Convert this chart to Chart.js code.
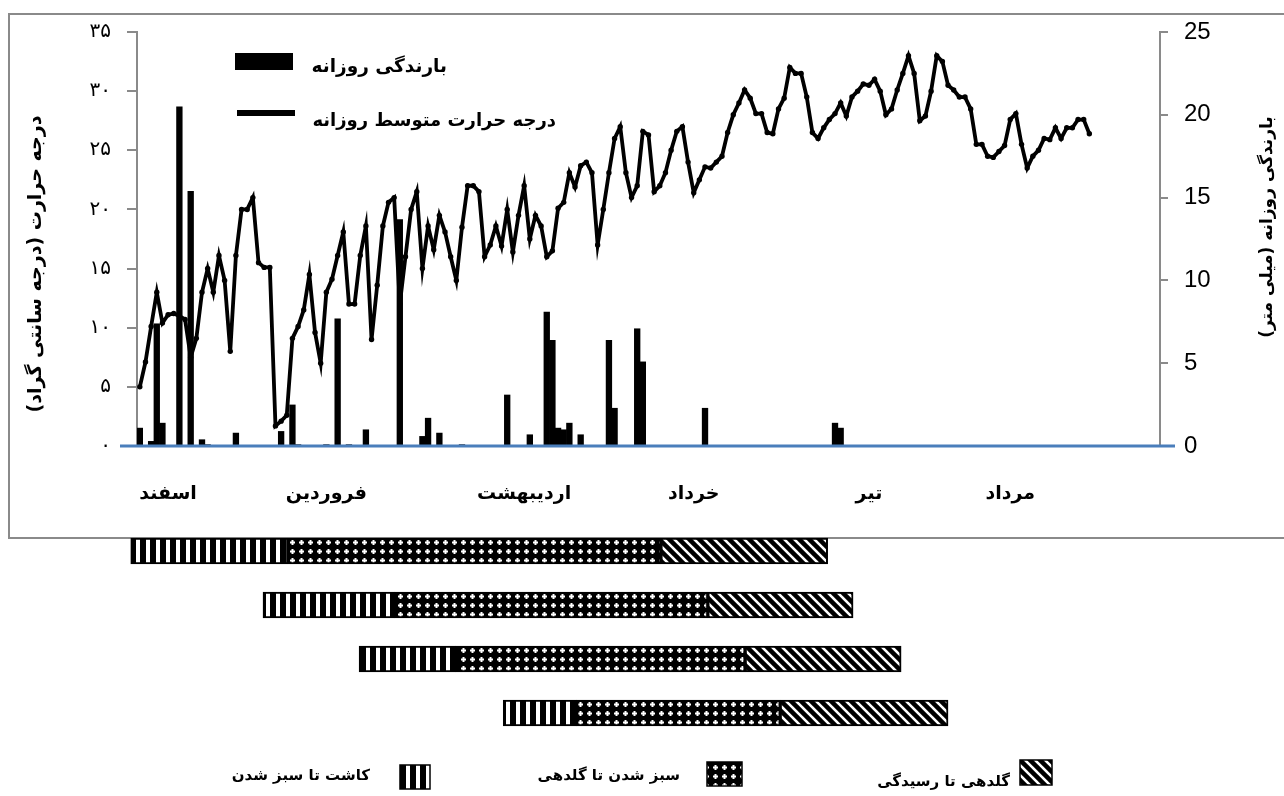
<!DOCTYPE html>
<html lang="fa">
<head>
<meta charset="utf-8">
<title>بارندگی و درجه حرارت روزانه</title>
<script src="https://cdn.jsdelivr.net/npm/chart.js@4.4.1/dist/chart.umd.min.js"></script>
<style>
  body { margin: 0; background: #fff; }
  #wrap { position: relative; width: 1284px; height: 796px; overflow: hidden; }
  #frame { position: absolute; left: 8px; top: 13px; width: 1300px; height: 522px; border: 2px solid #8a8a8a; }
  #mainChart { position: absolute; left: 0; top: 0; }
  #stageChart { position: absolute; left: 0; top: 520px; }
</style>
</head>
<body>
<div id="wrap">
  <div id="frame"></div>
  <canvas id="mainChart" width="1284" height="540"></canvas>
  <canvas id="stageChart" width="1284" height="276"></canvas>
</div>
<script>
// Daily data, day 0 = start of Esfand
const dayCount = 181;

// Mean daily temperature (°C)
const tempC = [
    5.0, 7.1, 10.1, 13.0, 10.4, 11.1, 11.2, 11.0, 10.7, 7.5,
    9.1, 13.0, 15.0, 13.0, 16.1, 14.0, 8.0, 16.1, 20.0, 20.0,
    21.0, 15.5, 15.1, 15.1, 1.7, 2.1, 2.6, 9.1, 10.1, 11.5,
    14.5, 9.6, 7.0, 13.0, 14.1, 16.1, 18.1, 12.0, 12.0, 16.1,
    18.6, 9.0, 13.6, 18.6, 20.6, 21.0, 12.0, 16.0, 20.0, 21.5,
    15.0, 18.6, 16.6, 19.5, 18.1, 16.0, 14.0, 18.5, 22.0, 22.0,
    21.5, 16.0, 17.0, 18.6, 16.9, 20.0, 16.4, 19.5, 22.0, 17.5,
    19.5, 18.6, 16.0, 16.5, 20.1, 20.6, 23.1, 21.9, 23.7, 24.0,
    23.1, 17.0, 20.0, 23.1, 26.0, 27.0, 23.1, 21.0, 22.0, 26.6,
    26.3, 21.5, 22.0, 23.1, 25.0, 26.6, 27.0, 24.0, 21.4, 22.5,
    23.6, 23.5, 24.0, 24.5, 26.5, 28.0, 29.0, 30.1, 29.4, 28.1,
    28.1, 26.5, 26.4, 28.5, 29.4, 32.0, 31.5, 31.5, 29.5, 26.5,
    26.0, 26.9, 27.6, 28.1, 29.0, 27.9, 29.5, 30.0, 30.6, 30.5,
    31.0, 30.0, 28.0, 28.5, 30.1, 31.5, 33.0, 31.5, 27.5, 27.9,
    30.0, 33.0, 32.5, 30.5, 30.1, 29.5, 29.5, 28.5, 25.5, 25.5,
    24.5, 24.4, 24.9, 25.4, 27.6, 28.1, 25.5, 23.5, 24.5, 25.0,
    26.0, 25.9, 26.9, 26.0, 26.9, 26.9, 27.6, 27.6, 26.4
];

// Daily rainfall (mm), only rainy days
const rainDays = [0, 2, 3, 4, 7, 9, 11, 12, 17, 25, 27, 28, 33, 35, 37, 40, 46, 50, 51, 53,
    57, 65, 69, 72, 73, 74, 75, 76, 78, 83, 84, 88, 89, 100, 123, 124];
const rainMm = [1.1, 0.3, 7.4, 1.4, 20.5, 15.4, 0.4, 0.1, 0.8, 0.9, 2.5, 0.1, 0.1, 7.7, 0.1, 1.0, 13.7, 0.6, 1.7, 0.8,
    0.1, 3.1, 0.7, 8.1, 6.4, 1.1, 1.0, 1.4, 0.7, 6.4, 2.3, 7.1, 5.1, 2.3, 1.4, 1.1];

// Month labels on the day axis
const monthNames = ['اسفند', 'فروردین', 'اردیبهشت', 'خرداد', 'تیر', 'مرداد'];
const monthAt = [5, 33, 68, 98, 129, 154];

// Growth stages (day from start) for the four sowing dates
const stageRows = ['1', '2', '3', '4'];
const sowing = [-1.1, 22.3, 39.3, 64.8];
const emergence = [26.7, 45.6, 56.4, 77.8];
const flowering = [92.7, 101.0, 107.6, 113.8];
const maturity = [122.2, 126.7, 135.2, 143.5];
const stageNames = ['کاشت تا سبز شدن', 'سبز شدن تا گلدهی', 'گلدهی تا رسیدگی'];

const rainLabel = 'بارندگی روزانه';
const tempLabel = 'درجه حرارت متوسط روزانه';
const tempTitle = 'درجه حرارت (درجه سانتی گراد)';
const rainTitle = 'بارندگی روزانه (میلی متر)';

const faDigits = '۰۱۲۳۴۵۶۷۸۹';
const toFa = n => String(n).replace(/\d/g, d => faDigits[d]);
const faFont = '"DejaVu Sans", sans-serif';

// build daily tables
const days = Array.from({ length: dayCount }, (_, i) => i + 1);
const rainDaily = days.map(() => null);
rainDays.forEach((d, k) => { rainDaily[d] = rainMm[k]; });

// Main chart decorations: blue base line, inner legend, axis titles
const decor = {
    id: 'decor',
    afterDatasetsDraw(chart) {
        const { ctx, chartArea } = chart;
        const y0 = chart.scales.yRain.getPixelForValue(0);
        ctx.save();
        ctx.strokeStyle = '#4a7ebb';
        ctx.lineWidth = 3;
        ctx.beginPath();
        ctx.moveTo(chartArea.left - 17, y0);
        ctx.lineTo(chartArea.right + 15, y0);
        ctx.stroke();
        ctx.restore();
    },
    afterDraw(chart) {
        const ctx = chart.ctx;
        ctx.save();
        ctx.fillStyle = '#000';
        ctx.strokeStyle = '#000';
        ctx.direction = 'rtl';
        ctx.textBaseline = 'middle';

        // legend
        ctx.fillRect(235, 53, 58, 17);
        ctx.lineWidth = 6;
        ctx.beginPath();
        ctx.moveTo(237, 113);
        ctx.lineTo(295, 113);
        ctx.stroke();
        ctx.textAlign = 'right';
        ctx.font = 'bold 18.5px ' + faFont;
        ctx.fillText(rainLabel, 447, 67);
        ctx.font = 'bold 18px ' + faFont;
        ctx.fillText(tempLabel, 556, 121);

        // axis titles
        ctx.textAlign = 'center';
        ctx.save();
        ctx.translate(36, 264);
        ctx.rotate(-Math.PI / 2);
        ctx.font = 'bold 19px ' + faFont;
        ctx.fillText(tempTitle, 0, 0);
        ctx.restore();

        ctx.save();
        ctx.translate(1268, 227);
        ctx.rotate(-Math.PI / 2);
        ctx.font = 'bold 17px ' + faFont;
        ctx.fillText(rainTitle, 0, 0);
        ctx.restore();

        ctx.restore();
    }
};

new Chart(document.getElementById('mainChart'), {
    data: {
        labels: days,
        datasets: [
            {
                type: 'bar',
                label: rainLabel,
                data: rainDaily,
                yAxisID: 'yRain',
                backgroundColor: '#000',
                categoryPercentage: 1,
                barPercentage: 1.12,
                order: 0
            },
            {
                type: 'line',
                label: tempLabel,
                data: tempC,
                yAxisID: 'yTemp',
                borderColor: '#000',
                borderWidth: 3.8,
                pointRadius: 2.7,
                pointBackgroundColor: '#000',
                pointBorderWidth: 0,
                tension: 0,
                order: 1
            }
        ]
    },
    options: {
        responsive: false,
        animation: false,
        layout: { padding: { top: 32, left: 0, right: 0, bottom: 0 } },
        plugins: {
            legend: { display: false },
            tooltip: { enabled: false }
        },
        scales: {
            x: {
                type: 'category',
                grid: { display: false },
                border: { display: false },
                ticks: {
                    autoSkip: false,
                    maxRotation: 0,
                    padding: 29,
                    color: '#000',
                    font: { family: faFont, size: 19, weight: 'bold' },
                    callback: (v, i) => {
                        const k = monthAt.indexOf(i);
                        return k < 0 ? '' : monthNames[k];
                    }
                },
                afterFit: s => { s.height = 94; }
            },
            yTemp: {
                position: 'left',
                min: 0,
                max: 35,
                ticks: {
                    stepSize: 5,
                    padding: 16,
                    color: '#000',
                    font: { family: faFont, size: 20 },
                    callback: v => toFa(v)
                },
                grid: { drawOnChartArea: false, tickLength: 10, color: '#8a8a8a', lineWidth: 2 },
                border: { color: '#8a8a8a', width: 2 },
                afterFit: s => { s.width = 137; }
            },
            yRain: {
                position: 'right',
                min: 0,
                max: 25,
                ticks: {
                    stepSize: 5,
                    padding: 16,
                    color: '#000',
                    font: { family: '"Liberation Sans", Arial, sans-serif', size: 24 }
                },
                grid: { drawOnChartArea: false, tickLength: 8, color: '#8a8a8a', lineWidth: 2 },
                border: { color: '#8a8a8a', width: 2 },
                afterFit: s => { s.width = 124; }
            }
        }
    },
    plugins: [decor]
});

// Fill patterns for growth stages
function makePattern(w, h, paint) {
    const c = document.createElement('canvas');
    c.width = w;
    c.height = h;
    const g = c.getContext('2d');
    paint(g, w, h);
    return g.createPattern(c, 'repeat');
}

const ctxStage = document.getElementById('stageChart').getContext('2d');
const patterns = [
    // vertical stripes
    makePattern(10, 10, (g) => {
        g.fillStyle = '#fff';
        g.fillRect(0, 0, 10, 10);
        g.fillStyle = '#000';
        g.fillRect(0, 0, 6, 10);
    }),
    // black with white dots
    makePattern(9, 9, (g) => {
        g.fillStyle = '#000';
        g.fillRect(0, 0, 9, 9);
        g.fillStyle = '#fff';
        g.fillRect(3.5, 2, 2, 5);
        g.fillRect(2, 3.5, 5, 2);
    }),
    // diagonal stripes
    makePattern(10, 10, (g) => {
        g.fillStyle = '#fff';
        g.fillRect(0, 0, 10, 10);
        g.strokeStyle = '#000';
        g.lineWidth = 4.5;
        [-10, 0, 10].forEach(o => {
            g.beginPath();
            g.moveTo(o - 2, -2);
            g.lineTo(o + 12, 12);
            g.stroke();
        });
    })
];

const stageBounds = [sowing, emergence, flowering, maturity];
const stageSets = stageNames.map((name, k) => ({
    label: name,
    data: stageRows.map((r, i) => [stageBounds[k][i], stageBounds[k + 1][i]]),
    backgroundColor: patterns[k],
    borderColor: '#000',
    borderWidth: 2,
    borderSkipped: false,
    barThickness: 26,
    grouped: false
}));

const stageLegend = {
    id: 'stageLegend',
    afterDraw(chart) {
        const ctx = chart.ctx;
        const items = [
            { x: 400, y: 245, w: 30, h: 24, tx: 370, ty: 256 },
            { x: 707, y: 242, w: 35, h: 24, tx: 680, ty: 256 },
            { x: 1020, y: 240, w: 32, h: 25, tx: 1010, ty: 262 }
        ];
        ctx.save();
        ctx.direction = 'rtl';
        ctx.textAlign = 'right';
        ctx.textBaseline = 'middle';
        ctx.font = 'bold 15px ' + faFont;
        items.forEach((it, k) => {
            ctx.fillStyle = patterns[k];
            ctx.fillRect(it.x, it.y, it.w, it.h);
            ctx.strokeStyle = '#000';
            ctx.lineWidth = 1.5;
            ctx.strokeRect(it.x, it.y, it.w, it.h);
            ctx.fillStyle = '#000';
            ctx.fillText(stageNames[k], it.tx, it.ty);
        });
        ctx.restore();
    }
};

new Chart(ctxStage, {
    type: 'bar',
    data: { labels: stageRows, datasets: stageSets },
    options: {
        indexAxis: 'y',
        responsive: false,
        animation: false,
        layout: { padding: { left: 120, right: 124, top: 4, bottom: 56 } },
        plugins: {
            legend: { display: false },
            tooltip: { enabled: false }
        },
        scales: {
            x: { type: 'linear', min: -3, max: dayCount, display: false },
            y: { type: 'category', display: false, offset: true }
        }
    },
    plugins: [stageLegend]
});
</script>
</body>
</html>
